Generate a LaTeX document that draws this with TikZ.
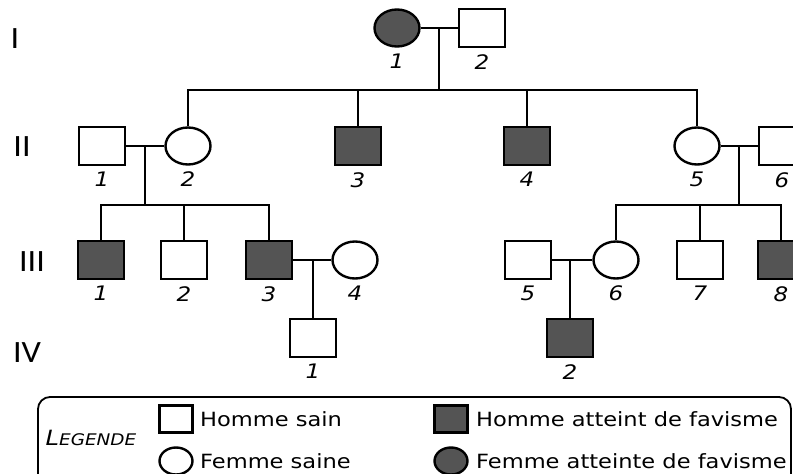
\documentclass[tikz,border=0pt]{standalone}
\usepackage{fontspec}
\setmainfont{DejaVu Sans}[FakeStretch=1.15]
\newfontfamily\romfont{Carlito}[FakeStretch=1.1]
\usetikzlibrary{shapes.geometric}
\begin{document}
\begin{tikzpicture}[x=1pt,y=-1pt,
  line/.style={line width=2.4pt},
  num/.style={font=\fontsize{20}{22}\selectfont\itshape,inner sep=1pt},
  man/.style={draw,line width=2.4pt,minimum width=46pt,minimum height=38pt,inner sep=0pt,label={[num]below:#1}},
  woman/.style={ellipse,draw,line width=2.4pt,minimum width=45pt,minimum height=37pt,inner sep=0pt,label={[num]below:#1}},
  sick/.style={fill=black!67},
  gen/.style={font=\romfont\fontsize{31}{31}\selectfont,inner sep=0pt},
  leg/.style={font=\fontsize{19.6}{22}\selectfont,anchor=west,inner sep=0pt},
  label distance=5pt
  ]
\useasboundingbox (0,0) rectangle (793,474);
\clip (0,0) rectangle (793,474);
% generations
\node[gen] (gI) at (15,39) {I};
\node[gen] (gII) at (22,147) {II};
\node[gen] (gIII) at (32,262) {III};
\node[gen] (gIV) at (27,353) {IV};
% generation I
\node[woman=1,sick] (I1) at (397,28) {};
\node[man=2] (I2) at (482,28) {};
\coordinate (m1) at (439,28);
\coordinate (s1) at (439,90);
% generation II
\node[man=1] (II1) at (102,146) {};
\node[woman=2] (II2) at (188,146) {};
\node[man=3,sick] (II3) at (358,146) {};
\node[man=4,sick] (II4) at (527,146) {};
\node[woman=5] (II5) at (697,146) {};
\node[man=6] (II6) at (782,146) {};
\coordinate (m2) at (145,146);
\coordinate (s2) at (145,205);
\coordinate (m3) at (739,146);
\coordinate (s3) at (739,205);
% generation III
\node[man=1,sick] (III1) at (101,260) {};
\node[man=2] (III2) at (184,260) {};
\node[man=3,sick] (III3) at (269,260) {};
\node[woman=4] (III4) at (355,260) {};
\node[man=5] (III5) at (528,260) {};
\node[woman=6] (III6) at (616,260) {};
\node[man=7] (III7) at (700,260) {};
\node[man=8,sick] (III8) at (781,260) {};
\coordinate (m4) at (313,260);
\coordinate (m5) at (570,260);
% generation IV
\node[man=1] (IV1) at (313,338) {};
\node[man=2,sick] (IV2) at (570,338) {};
% unions and descent
\draw[line] (I1) -- (I2);
\draw[line] (m1) -- (s1);
\draw[line] (II2.north) |- (s1) -| (II5.north);
\draw[line] (s1 -| II3.north) -- (II3.north);
\draw[line] (s1 -| II4.north) -- (II4.north);
\draw[line] (II1) -- (II2);
\draw[line] (m2) -- (s2);
\draw[line] (III1.north) |- (s2) -| (III3.north);
\draw[line] (s2 -| III2.north) -- (III2.north);
\draw[line] (II5) -- (II6);
\draw[line] (m3) -- (s3);
\draw[line] (III6.north) |- (s3) -| (III8.north);
\draw[line] (s3 -| III7.north) -- (III7.north);
\draw[line] (III3) -- (III4);
\draw[line] (m4) -- (IV1.north);
\draw[line] (III5) -- (III6);
\draw[line] (m5) -- (IV2.north);
% legend
\draw[line width=1.8pt,rounded corners=12pt] (38,397) rectangle (791,495);
\node[font=\itshape,inner sep=0pt] (lg) at (91,438) {\fontsize{21}{21}\selectfont L\fontsize{16}{16}\selectfont EGENDE};
\node[draw,line width=2.4pt,minimum width=33pt,minimum height=27pt,inner sep=0pt] (kman) at (176,419) {};
\node[ellipse,draw,line width=2.4pt,minimum width=33pt,minimum height=27pt,inner sep=0pt] (kwoman) at (176,461) {};
\node[draw,sick,line width=2.4pt,minimum width=33pt,minimum height=27pt,inner sep=0pt] (ksman) at (451,419) {};
\node[ellipse,draw,sick,line width=2.4pt,minimum width=33pt,minimum height=27pt,inner sep=0pt] (kswoman) at (451,461) {};
\node[leg] (tman) at (200,419) {Homme sain};
\node[leg] (twoman) at (200,461) {Femme saine};
\node[leg] (tsman) at (476,419) {Homme atteint de favisme};
\node[leg] (tswoman) at (476,461) {Femme atteinte de favisme};
\end{tikzpicture}
\end{document}
